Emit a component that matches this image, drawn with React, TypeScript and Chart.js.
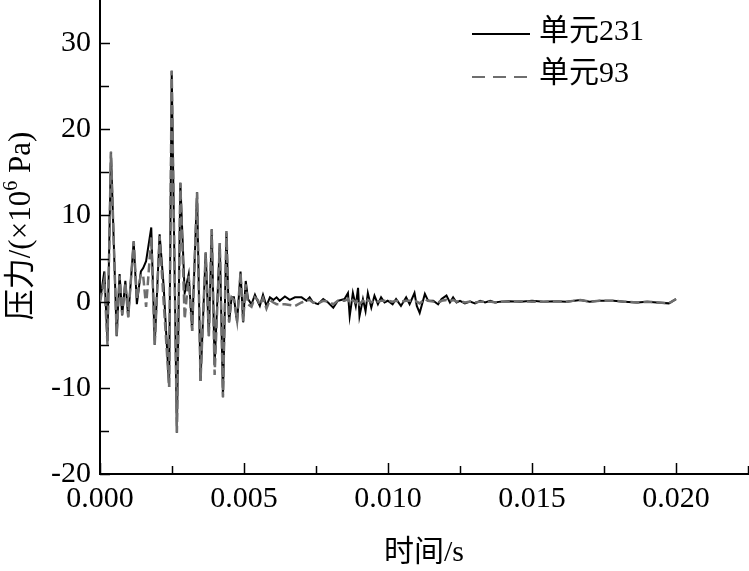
import React, { useEffect, useRef } from 'react';
import { Chart, registerables } from 'chart.js';

Chart.register(...registerables);

// time (s)
const timeS = [
  0, 0.00015, 0.00026, 0.00038, 0.00058, 0.00068, 0.00077, 0.00088, 0.00098, 0.00117,
  0.00128, 0.00142, 0.0015, 0.0016, 0.00178, 0.0019, 0.00207, 0.00221, 0.0024, 0.00249,
  0.00267, 0.00279, 0.00294, 0.00308, 0.0032, 0.00337, 0.00349, 0.00367, 0.00378, 0.00388,
  0.00398, 0.00416, 0.00427, 0.00439, 0.00448, 0.00457, 0.00465, 0.00476, 0.00488, 0.00497,
  0.00506, 0.00514, 0.00526, 0.00538, 0.00548, 0.00555, 0.00566, 0.00578, 0.0059, 0.00602,
  0.00613, 0.00624, 0.00642, 0.00659, 0.00677, 0.007, 0.00717, 0.00728, 0.0074, 0.00757,
  0.00775, 0.00792, 0.0081, 0.00826, 0.00849, 0.00861, 0.00867, 0.00878, 0.00888, 0.00896,
  0.00901, 0.00913, 0.00922, 0.0093, 0.00942, 0.00953, 0.00965, 0.00976, 0.00988, 0.00999,
  0.01016, 0.01028, 0.01045, 0.01063, 0.01075, 0.01092, 0.011, 0.0111, 0.01128, 0.01139,
  0.01157, 0.01174, 0.01186, 0.01203, 0.01215, 0.01226, 0.01238, 0.0125, 0.01267, 0.01285,
  0.01302, 0.0132, 0.01337, 0.01355, 0.01372, 0.0139, 0.0142, 0.0146, 0.015, 0.0154,
  0.0158, 0.0162, 0.01668, 0.017, 0.01735, 0.01783, 0.0182, 0.01865, 0.019, 0.01934,
  0.01975, 0.02,
];

// pressure (x10^6 Pa), element 231
const unit231 = [
  0, 3.5, -4.6, 17.4, -4.0, 3.2, -1.6, 2.4, -1.8, 7.0,
  -0.3, 3.5, 3.9, 4.7, 8.6, -5.0, 7.8, 1.8, -9.9, 26.8,
  -15.2, 13.8, 1.0, 3.2, -3.4, 12.7, -9.2, 5.7, -4.0, 8.4,
  -7.3, 6.8, -11.1, 8.0, -2.4, 0.5, 0.5, -2.4, 3.5, -2.4,
  2.4, 0.3, -0.3, 0.8, 0.0, -0.5, 0.8, -0.5, 0.5, 0.2,
  0.5, 0.1, 0.6, 0.2, 0.5, 0.5, 0.1, 0.5, -0.1, -0.3,
  0.3, -0.1, -0.7, 0.1, 0.3, 1.0, -1.7, 1.0, -0.5, 1.6,
  -1.7, 0.3, -1.1, 1.0, -0.7, 0.7, -0.3, 0.5, -0.1, 0.1,
  -0.3, 0.3, -0.5, 0.5, -0.3, 1.0, -0.5, -1.3, 0.9, 0.1,
  0.1, -0.3, 0.3, 0.7, -0.1, 0.5, -0.1, 0.1, -0.2, 0.0,
  -0.2, 0.1, -0.1, 0.1, -0.1, 0.0, 0.05, 0.0, 0.1, 0.0,
  0.05, 0.0, 0.2, 0.0, 0.1, 0.1, 0.0, -0.1, 0.0, -0.1,
  -0.2, 0.3,
];

// pressure (x10^6 Pa), element 93
const unit93 = [
  0, 2.5, -5.0, 17.4, -4.0, 3.0, -1.5, 2.2, -1.8, 7.0,
  0.3, 3.2, 3.0, -0.6, 7.5, -5.0, 7.6, 0.0, -9.9, 26.8,
  -15.2, 13.8, -2.0, 3.0, -3.4, 12.7, -9.2, 5.7, -4.0, 8.4,
  -8.5, 6.8, -11.1, 8.2, -2.4, 0.5, 0.2, -2.2, 3.4, -2.3,
  2.0, -0.3, -0.6, 0.5, 0.2, -0.4, 0.4, -0.8, 0.2, -0.1,
  -0.3, -0.3, -0.3, -0.4, -0.5, -0.1, 0.1, 0.2, -0.1, -0.2,
  0.1, 0.0, -0.3, 0.1, 0.1, 0.3, -0.2, 0.2, -0.1, 0.3,
  -0.3, 0.1, -0.2, 0.2, -0.1, 0.2, 0.0, 0.1, 0.1, 0.1,
  0.0, 0.1, 0.0, 0.1, 0.1, 0.1, 0.0, -0.2, 0.3, 0.1,
  0.0, -0.1, 0.1, 0.2, 0.0, 0.2, 0.0, 0.1, -0.1, 0.0,
  -0.1, 0.0, 0.0, 0.0, -0.1, 0.0, 0.0, 0.05, 0.0, 0.0,
  0.05, 0.0, 0.2, 0.0, 0.1, 0.1, 0.0, -0.1, 0.0, -0.1,
  -0.2, 0.3,
];

const seriesNames = ['单元231', '单元93'];
const xMajorTicks = [0, 0.005, 0.01, 0.015, 0.02];
const xMinorTicks = [0.0025, 0.0075, 0.0125, 0.0175, 0.0225];
const yMajorTicks = [-20, -10, 0, 10, 20, 30];
const yMinorTicks = [-15, -5, 5, 15, 25];
const xTitle = '时间/s';
const yTitleParts = ['压力/(×10', '6', ' Pa)'];

const FONT = "'Liberation Serif', 'Noto Sans CJK SC', serif";
const GRAY = '#6e6e6e';

const decorPlugin = {
  id: 'decor',
  afterDraw(chart: any) {
    const { ctx, chartArea, scales } = chart;
    const xs = scales.x;
    const ys = scales.y;
    ctx.save();
    ctx.strokeStyle = '#000';
    ctx.lineWidth = 1.5;
    const xTick = (v: number, len: number) => {
      const px = Math.round(xs.getPixelForValue(v)) + 0.5;
      ctx.beginPath();
      ctx.moveTo(px, chartArea.bottom);
      ctx.lineTo(px, chartArea.bottom - len);
      ctx.stroke();
    };
    const yTick = (v: number, len: number) => {
      const py = Math.round(ys.getPixelForValue(v)) + 0.5;
      ctx.beginPath();
      ctx.moveTo(chartArea.left, py);
      ctx.lineTo(chartArea.left + len, py);
      ctx.stroke();
    };
    xMajorTicks.forEach((v) => xTick(v, 11));
    xMinorTicks.forEach((v) => xTick(v, 8));
    yMajorTicks.forEach((v) => yTick(v, 10));
    yMinorTicks.forEach((v) => yTick(v, 9));

    // x title
    ctx.fillStyle = '#000';
    ctx.font = `30px ${FONT}`;
    ctx.textAlign = 'center';
    ctx.textBaseline = 'middle';
    ctx.fillText(xTitle, (chartArea.left + chartArea.right) / 2, 553);

    // y title (rotated, with superscript)
    ctx.save();
    ctx.translate(22, 226);
    ctx.rotate(-Math.PI / 2);
    ctx.textAlign = 'left';
    ctx.font = `31px ${FONT}`;
    const w1 = ctx.measureText(yTitleParts[0]).width;
    const w3 = ctx.measureText(yTitleParts[2]).width;
    ctx.font = `20px ${FONT}`;
    const w2 = ctx.measureText(yTitleParts[1]).width;
    let x0 = -(w1 + w2 + w3) / 2;
    ctx.font = `31px ${FONT}`;
    ctx.fillText(yTitleParts[0], x0, 0);
    x0 += w1;
    ctx.font = `20px ${FONT}`;
    ctx.fillText(yTitleParts[1], x0, -10);
    x0 += w2;
    ctx.font = `31px ${FONT}`;
    ctx.fillText(yTitleParts[2], x0, 0);
    ctx.restore();

    // legend
    ctx.textAlign = 'left';
    ctx.textBaseline = 'middle';
    ctx.font = `30px ${FONT}`;
    ctx.strokeStyle = '#000';
    ctx.lineWidth = 2;
    ctx.setLineDash([]);
    ctx.beginPath();
    ctx.moveTo(472, 34);
    ctx.lineTo(530, 34);
    ctx.stroke();
    ctx.fillStyle = '#000';
    ctx.fillText(seriesNames[0], 539, 32);

    ctx.strokeStyle = GRAY;
    ctx.lineWidth = 2;
    ctx.setLineDash([13, 8]);
    ctx.beginPath();
    ctx.moveTo(472, 77);
    ctx.lineTo(530, 77);
    ctx.stroke();
    ctx.setLineDash([]);
    ctx.fillText(seriesNames[1], 539, 74);
    ctx.restore();
  },
};

export default function App() {
  const canvasRef = useRef<HTMLCanvasElement | null>(null);

  useEffect(() => {
    const canvas = canvasRef.current;
    if (!canvas) return;
    const d231 = timeS.map((t, i) => ({ x: t, y: unit231[i] }));
    const d93 = timeS.map((t, i) => ({ x: t, y: unit93[i] }));
    const chart = new Chart(canvas, {
      type: 'line',
      data: {
        datasets: [
          {
            label: seriesNames[0],
            data: d231,
            borderColor: '#000',
            borderWidth: 2,
            pointRadius: 0,
            tension: 0,
            order: 2,
          },
          {
            label: seriesNames[1],
            data: d93,
            borderColor: GRAY,
            borderWidth: 2.5,
            borderDash: [9, 4],
            pointRadius: 0,
            tension: 0,
            order: 1,
          },
        ],
      },
      options: {
        responsive: false,
        animation: false,
        events: [],
        layout: { padding: { left: 0, right: 1, top: 0, bottom: 0 } },
        plugins: {
          legend: { display: false },
          tooltip: { enabled: false },
          title: { display: false },
        },
        scales: {
          x: {
            type: 'linear',
            min: 0,
            max: 0.0225,
            grid: { display: false, drawTicks: false },
            border: { display: true, color: '#000', width: 2 },
            afterBuildTicks: (scale: any) => {
              scale.ticks = xMajorTicks.map((v) => ({ value: v }));
            },
            afterFit: (scale: any) => {
              scale.height = 97;
              scale.paddingLeft = 0;
              scale.paddingRight = 0;
            },
            ticks: {
              color: '#000',
              padding: 7,
              maxRotation: 0,
              autoSkip: false,
              font: { family: FONT, size: 30 },
              callback: (v: any) => Number(v).toFixed(3),
            },
          },
          y: {
            type: 'linear',
            min: -20,
            max: 35,
            grid: { display: false, drawTicks: false },
            border: { display: true, color: '#000', width: 2 },
            afterBuildTicks: (scale: any) => {
              scale.ticks = yMajorTicks.map((v) => ({ value: v }));
            },
            afterFit: (scale: any) => {
              scale.width = 100;
              scale.paddingTop = 0;
              scale.paddingBottom = 0;
            },
            ticks: {
              color: '#000',
              padding: 9,
              autoSkip: false,
              font: { family: FONT, size: 30 },
              callback: (v: any) => String(v),
            },
          },
        },
      },
      plugins: [decorPlugin],
    });
    return () => chart.destroy();
  }, []);

  return (
    <div style={{ position: 'fixed', left: 0, top: 0, width: 749, height: 571, background: '#fff' }}>
      <canvas ref={canvasRef} width={749} height={571} style={{ display: 'block' }} />
    </div>
  );
}
